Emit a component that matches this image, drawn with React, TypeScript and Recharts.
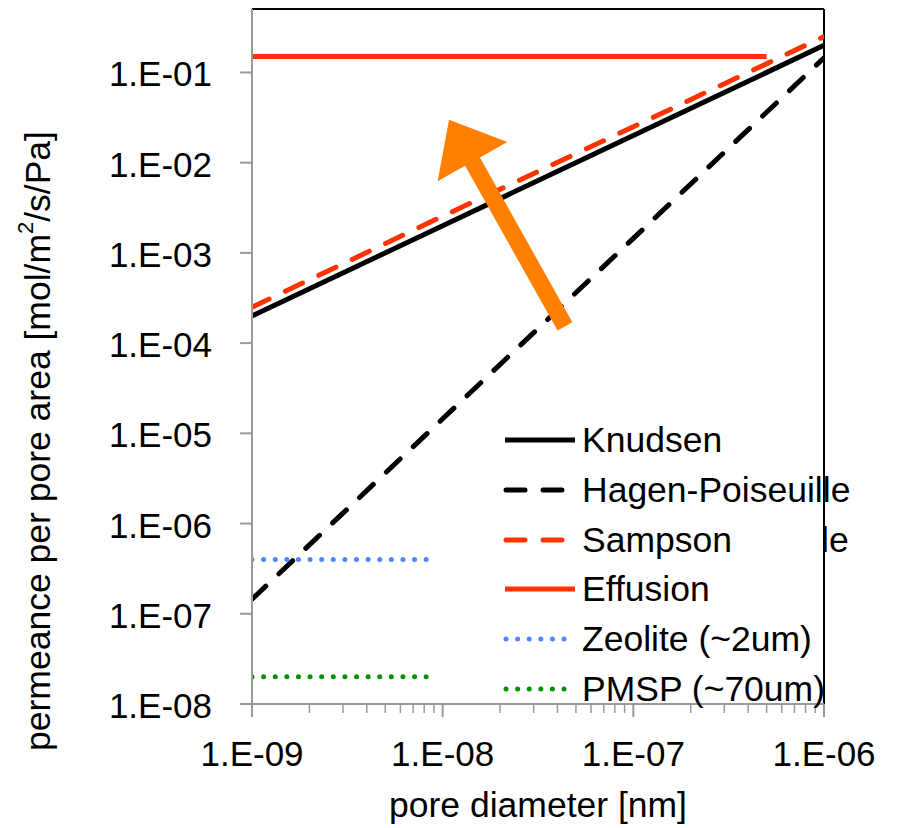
import React from 'react';
import { LineChart, Line, XAxis, YAxis, ReferenceLine, Legend, Label } from 'recharts';

const FONT = '"Liberation Sans", Arial, Helvetica, sans-serif';

// ---- axis ticks ----
const xMajorTicks = [1e-9, 1e-8, 1e-7, 1e-6];
const xMajorLabels = ['1.E-09', '1.E-08', '1.E-07', '1.E-06'];
const xMinorTicks = [
  2e-9, 3e-9, 4e-9, 5e-9, 6e-9, 7e-9, 8e-9, 9e-9,
  2e-8, 3e-8, 4e-8, 5e-8, 6e-8, 7e-8, 8e-8, 9e-8,
  2e-7, 3e-7, 4e-7, 5e-7, 6e-7, 7e-7, 8e-7, 9e-7,
];
const yTicks = [1e-8, 1e-7, 1e-6, 1e-5, 1e-4, 1e-3, 1e-2, 1e-1];
const yTickLabels = ['1.E-08', '1.E-07', '1.E-06', '1.E-05', '1.E-04', '1.E-03', '1.E-02', '1.E-01'];
const xDomain = [1e-9, 1e-6];
const yDomain = [1e-8, 0.505];

// ---- series ----
const knudsenX = [1e-9, 1e-8, 1e-7, 1e-6];
const knudsenY = [2e-4, 2e-3, 2e-2, 2e-1];
const hagenX = [1e-9, 1e-8, 1e-7, 1e-6];
const hagenY = [1.45e-7, 1.45e-5, 1.45e-3, 1.45e-1];
const sampsonX = [1e-9, 1e-8, 1e-7, 1e-6];
const sampsonY = [2.5e-4, 2.55e-3, 2.5e-2, 2.5e-1];
const effusionX = [1e-9, 1e-8, 1e-7, 5e-7];
const effusionY = [0.15, 0.15, 0.15, 0.15];
const zeoliteX = [1e-9, 9e-9];
const zeoliteY = [4e-7, 4e-7];
const pmspX = [1e-9, 9e-9];
const pmspY = [2e-8, 2e-8];

// arrow annotation (data coordinates: tail -> tip)
const arrowTail = { x: 4.38e-8, y: 1.53e-4 };
const arrowTip = { x: 1.08e-8, y: 2.99e-2 };

const toData = (xs: number[], ys: number[]) => xs.map((x, i) => ({ x, y: ys[i] }));

const RED = '#ff3300';
const BLUE = '#4d88ff';
const GREEN = '#009100';
const ORANGE = '#ff8000';

type S = { name: string; data: { x: number; y: number }[]; color: string; dash?: string; cap: 'round' | 'butt'; width: number; kind: 'solid' | 'dash' | 'dot' };
const series: S[] = [
  { name: 'Knudsen', data: toData(knudsenX, knudsenY), color: '#000', cap: 'butt', width: 5, kind: 'solid' },
  { name: 'Hagen-Poiseuille', data: toData(hagenX, hagenY), color: '#000', dash: '19 18', cap: 'round', width: 5, kind: 'dash' },
  { name: 'Sampson', data: toData(sampsonX, sampsonY), color: RED, dash: '19 18', cap: 'round', width: 5, kind: 'dash' },
  { name: 'Effusion', data: toData(effusionX, effusionY), color: RED, cap: 'butt', width: 5, kind: 'solid' },
  { name: 'Zeolite (~2um)', data: toData(zeoliteX, zeoliteY), color: BLUE, dash: '0.01 11.6', cap: 'round', width: 5, kind: 'dot' },
  { name: 'PMSP (~70um)', data: toData(pmspX, pmspY), color: GREEN, dash: '0.01 11.6', cap: 'round', width: 5, kind: 'dot' },
];

const sameTick = (a: number, b: number) => Math.abs(Math.log10(a) - Math.log10(b)) < 1e-6;

const XTick = (props: any) => {
  const { x, y, payload } = props;
  const idx = xMajorTicks.findIndex((t) => sameTick(t, payload.value));
  const major = idx >= 0;
  return (
    <g>
      <line x1={x} x2={x} y1={y} y2={y + (major ? 13 : 9)} stroke="#9a9a9a" strokeWidth={major ? 2 : 1.5} />
      {major && (
        <text x={x} y={y + 62} textAnchor="middle" fontSize={35} fontFamily={FONT} fill="#000">
          {xMajorLabels[idx]}
        </text>
      )}
    </g>
  );
};

const YTick = (props: any) => {
  const { x, y, payload } = props;
  const idx = yTicks.findIndex((t) => sameTick(t, payload.value));
  return (
    <g>
      <line x1={x - 12} x2={x} y1={y} y2={y} stroke="#9a9a9a" strokeWidth={2} />
      <text x={x - 40} y={y + 14} textAnchor="end" fontSize={35} fontFamily={FONT} fill="#000">
        {idx >= 0 ? yTickLabels[idx] : ''}
      </text>
    </g>
  );
};

const Arrow = (p: any) => {
  const { x1, y1, x2, y2 } = p;
  if (![x1, y1, x2, y2].every((v) => typeof v === 'number' && isFinite(v))) return null;
  const dx = x2 - x1;
  const dy = y2 - y1;
  const len = Math.sqrt(dx * dx + dy * dy);
  const ux = dx / len;
  const uy = dy / len;
  const px = -uy;
  const py = ux;
  const headLen = 48;
  const headHalf = 40;
  const shaftHalf = 8.5;
  const bx = x2 - ux * headLen;
  const by = y2 - uy * headLen;
  const pts = [
    [x1 + px * shaftHalf, y1 + py * shaftHalf],
    [bx + px * shaftHalf, by + py * shaftHalf],
    [bx + px * headHalf, by + py * headHalf],
    [x2, y2],
    [bx - px * headHalf, by - py * headHalf],
    [bx - px * shaftHalf, by - py * shaftHalf],
    [x1 - px * shaftHalf, y1 - py * shaftHalf],
  ];
  return <polygon points={pts.map((q) => q.join(',')).join(' ')} fill={ORANGE} stroke="none" />;
};

const LegendSample = ({ s }: { s: S }) => {
  if (s.kind === 'solid')
    return <line x1={2} x2={72} y1={6} y2={6} stroke={s.color} strokeWidth={5} />;
  if (s.kind === 'dash')
    return <line x1={3} x2={62} y1={6} y2={6} stroke={s.color} strokeWidth={5} strokeDasharray="19 18" strokeLinecap="round" />;
  return <line x1={3} x2={72} y1={6} y2={6} stroke={s.color} strokeWidth={5} strokeDasharray="0.01 11.6" strokeLinecap="round" />;
};

const LegendContent = () => (
  <div style={{ position: 'relative', width: 390, height: 300, fontFamily: FONT }}>
    {series.map((s, i) => (
      <div
        key={s.name}
        style={{ position: 'absolute', left: 0, top: i * 49.8, height: 50, display: 'flex', alignItems: 'center', whiteSpace: 'nowrap' }}
      >
        <svg width={78} height={12} style={{ display: 'block', flex: 'none' }}>
          <LegendSample s={s} />
        </svg>
        <span style={{ fontSize: 35.5, lineHeight: '50px', color: '#000', marginLeft: 1 }}>{s.name}</span>
      </div>
    ))}
    <div style={{ position: 'absolute', left: 318, top: 2 * 49.8, height: 50, lineHeight: '50px', fontSize: 35.5, color: '#000' }}>
      le
    </div>
  </div>
);

export default function App() {
  return (
    <div style={{ position: 'absolute', left: 0, top: 0, width: 897, height: 828, background: '#fff' }}>
      <LineChart width={897} height={828} margin={{ top: 9, right: 73, bottom: 0, left: 0 }}>
        <XAxis
          dataKey="x"
          type="number"
          scale="log"
          domain={xDomain}
          allowDataOverflow
          ticks={[...xMajorTicks, ...xMinorTicks]}
          interval={0}
          tickSize={0}
          tickMargin={0}
          tickLine={false}
          tick={<XTick />}
          axisLine={{ stroke: '#9a9a9a', strokeWidth: 2 }}
          height={124}
        >
          <Label
            content={() => (
              <text x={538} y={817} textAnchor="middle" fontSize={35.5} fontFamily={FONT} fill="#000">
                pore diameter [nm]
              </text>
            )}
          />
        </XAxis>
        <YAxis
          dataKey="y"
          type="number"
          scale="log"
          domain={yDomain}
          allowDataOverflow
          ticks={yTicks}
          interval={0}
          tickSize={0}
          tickMargin={0}
          tickLine={false}
          tick={<YTick />}
          axisLine={{ stroke: '#9a9a9a', strokeWidth: 2 }}
          width={252}
        >
          <Label
            content={() => (
              <text
                x={38}
                y={441}
                transform="rotate(-90, 38, 441)"
                textAnchor="middle"
                dominantBaseline="central"
                fontSize={35.5}
                fontFamily={FONT}
                fill="#000"
              >
                <tspan>permeance per pore area [mol/m</tspan>
                <tspan fontSize={22} dy={-13}>2</tspan>
                <tspan dy={13}>/s/Pa]</tspan>
              </text>
            )}
          />
        </YAxis>
        <ReferenceLine y={yDomain[1]} stroke="#000" strokeWidth={2} ifOverflow="visible" />
        <ReferenceLine x={xDomain[1]} stroke="#000" strokeWidth={2} ifOverflow="visible" />
        {series.map((s) => (
          <Line
            key={s.name}
            data={s.data}
            dataKey="y"
            name={s.name}
            type="linear"
            stroke={s.color}
            strokeWidth={s.width}
            strokeDasharray={s.dash}
            strokeLinecap={s.cap}
            dot={false}
            activeDot={false}
            isAnimationActive={false}
          />
        ))}
        <ReferenceLine
          segment={[arrowTail, arrowTip]}
          ifOverflow="visible"
          shape={(p: any) => <Arrow {...p} />}
        />
        <Legend
          layout="vertical"
          align="center"
          verticalAlign="middle"
          wrapperStyle={{ left: 503, top: 415, width: 390, height: 300 }}
          content={() => <LegendContent />}
        />
      </LineChart>
    </div>
  );
}
